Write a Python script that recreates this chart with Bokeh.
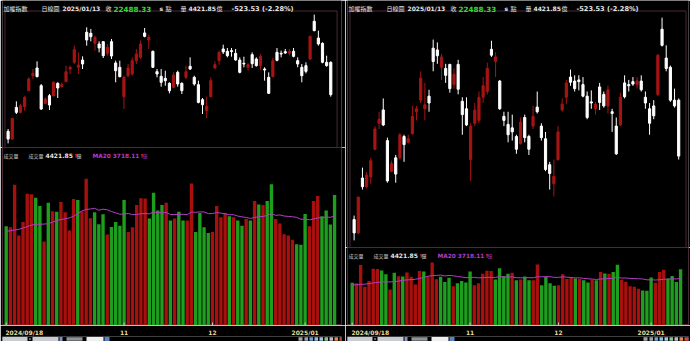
import numpy as np
import pandas as pd
from bokeh.plotting import figure
from bokeh.layouts import row, column
from bokeh.models import ColumnDataSource, Range1d, Label, FixedTicker
from bokeh.embed import file_html
from bokeh.resources import INLINE

# ---------------- data ----------------
sep_days = [18, 19, 20, 23, 24, 25, 26, 27, 30]
oct_days = [1, 4, 7, 8, 9, 11, 14, 15, 16, 17, 18, 21, 22, 23, 24, 25, 28, 29, 30]
nov_days = [1, 4, 5, 6, 7, 8, 11, 12, 13, 14, 15, 18, 19, 20, 21, 22, 25, 26, 27, 28, 29]
dec_days = [2, 3, 4, 5, 6, 9, 10, 11, 12, 13, 16, 17, 18, 19, 20, 23, 24, 25, 26, 27, 30, 31]
jan_days = [2, 3, 6, 7, 8, 9, 10, 13]
dates = ([f"2024/09/{d:02d}" for d in sep_days] + [f"2024/10/{d:02d}" for d in oct_days]
         + [f"2024/11/{d:02d}" for d in nov_days] + [f"2024/12/{d:02d}" for d in dec_days]
         + [f"2025/01/{d:02d}" for d in jan_days])

opens = [21826, 21687, 22259, 22169, 22271, 22560, 22831, 22970, 22650, 22331,
         22470, 22470, 22693, 22632, 22723, 22951, 23072, 22982, 23114, 23614,
         23596, 23415, 23403, 23445, 23234, 23445, 23060, 22982, 22452, 22831,
         22861, 23102, 23162, 23602, 23475, 23271, 22903, 22819, 22783, 22693,
         22620, 22891, 22693, 22801, 23000, 22801, 22669, 22398, 22199, 22452,
         22970, 23102, 23313, 23271, 23283, 23234, 23114, 23054, 22982, 23210,
         23132, 23012, 22951, 22801, 22813, 23252, 23234, 23265, 23234, 23271,
         23102, 22982, 23012, 23132, 23812, 23511, 23415, 23072, 23072]
highs = [21868, 22061, 22368, 22319, 22470, 22801, 22951, 23090, 22681, 22440,
         22500, 22729, 22711, 22711, 23012, 23012, 23373, 23252, 23180, 23704,
         23674, 23553, 23451, 23451, 23403, 23493, 23102, 23102, 22831, 23042,
         23162, 23313, 23463, 23692, 23572, 23283, 22951, 22951, 22921, 22711,
         22891, 22921, 22711, 23012, 23162, 22831, 22741, 22428, 22452, 22801,
         23090, 23283, 23391, 23331, 23331, 23313, 23162, 23174, 23054, 23252,
         23162, 23222, 22982, 22891, 23150, 23331, 23283, 23313, 23313, 23331,
         23162, 23042, 23072, 23553, 23933, 23644, 23433, 23192, 23090]
lows = [21609, 21675, 22139, 22151, 22199, 22548, 22771, 22801, 22211, 22319,
        22211, 22452, 22428, 22620, 22711, 22861, 23042, 22861, 22951, 23373,
        23451, 23283, 23252, 23150, 23192, 23132, 22711, 22801, 22229, 22801,
        22831, 23042, 23132, 23523, 23313, 22970, 22801, 22632, 22650, 22512,
        22608, 22632, 22500, 22771, 22933, 22650, 22331, 22139, 22067, 22440,
        22951, 23030, 23222, 23162, 23174, 23102, 22873, 22982, 22921, 22970,
        22994, 22933, 22741, 22500, 22801, 23090, 23162, 23222, 23192, 23162,
        22982, 22711, 22873, 23114, 23632, 23373, 23054, 22994, 22452]
closes = [21687, 22061, 22169, 22289, 22440, 22771, 22873, 22813, 22229, 22410,
          22301, 22711, 22608, 22669, 22903, 22982, 23301, 23024, 23042, 23475,
          23535, 23523, 23331, 23192, 23343, 23186, 22921, 22813, 22801, 22970,
          23102, 23222, 23403, 23541, 23523, 22982, 22861, 22711, 22741, 22560,
          22843, 22681, 22560, 22903, 22951, 22681, 22349, 22307, 22277, 22741,
          23030, 23252, 23259, 23192, 23265, 23114, 22891, 23042, 23030, 23048,
          23012, 23180, 22933, 22512, 23102, 23108, 23222, 23240, 23271, 23180,
          23042, 22831, 22909, 23541, 23644, 23403, 23072, 23011.86, 22488.33]
volumes = [3359, 3325, 4765, 3051, 3507, 4467, 4450, 4330, 4045, 2845,
           4158, 3874, 3850, 4182, 3840, 3222, 4285, 4251, 3860, 4971,
           3634, 3839, 3428, 3771, 3085, 3335, 3507, 3383, 4251, 3164,
           3325, 4079, 4309, 4300, 3623, 4501, 3898, 4079, 4158, 3555,
           3623, 3850, 3555, 3560, 4810, 3164, 3815, 3325, 3130, 3164,
           4045, 3668, 3815, 3702, 3668, 3555, 3383, 3610, 3555, 4216,
           4103, 4079, 4216, 4789, 3610, 3452, 3095, 3051, 2904, 2753,
           2732, 3781, 3359, 4216, 4388, 3702, 3898, 3418, 4421.85]
# MA20 over the first 19 sessions (depends on earlier, unseen sessions)
ma20_head = [3190, 3210, 3235, 3257, 3300, 3350, 3400, 3428, 3432, 3436,
             3450, 3500, 3560, 3590, 3615, 3644, 3700, 3790, 3880]

tick_dates = ["2024/09/18", "2024/11/01", "2024/12/02", "2025/01/02"]
tick_labels = ["2024/09/18", "11", "12", "2025/01"]

header_name = "加權指數"
header_period = "日線圖"
header_date = "2025/01/13"
header_close = "22488.33"
header_volume = "4421.85"
header_change = "-523.53 (-2.28%)"
ma20_label = "3718.11"

# ---------------- styling ----------------
BG = "#000000"
FRAME = "#4a2838"
C_UP = "#a81414"
C_DN = "#ffffff"
V_UP = "#a8100e"
V_DN = "#1e9e1e"
MA_COL = "#b43cc8"
TXT = "#e6e6e6"
GREEN_TXT = "#33dd33"
AX_TXT = "#e8dc9a"
CJK = "Noto Sans CJK TC"
LAT = "DejaVu Sans"

o = np.array(opens, float)
h = np.array(highs, float)
l = np.array(lows, float)
c = np.array(closes, float)
v = np.array(volumes, float)
n = len(c)
x = np.arange(n)
prev_close = np.r_[o[0], c[:-1]]
ma20 = pd.Series(v).rolling(20).mean().values
ma20[:len(ma20_head)] = ma20_head

src = ColumnDataSource(dict(
    x=x, o=o, h=h, l=l, c=c,
    btop=np.maximum(o, c), bbot=np.minimum(o, c),
    ccol=[C_UP if ci > oi else C_DN for oi, ci in zip(o, c)],
    vol=v, vcol=[V_UP if ci > pc else V_DN for ci, pc in zip(c, prev_close)],
    ma=ma20,
))
tick_pos = [dates.index(d) for d in tick_dates]

PW = 345
STEP = 4.21
HEAD = 10
AXIS_H = 10
TOOLBAR = 6
FIRST_LABEL_SHIFT = 4.3
BASE = dict(toolbar_location=None, output_backend="svg",
            background_fill_color=BG, border_fill_color=BG)


def lab(p, x, y, text, color, size=6.0, bold=True, font=LAT, yu="screen"):
    p.add_layout(Label(x=x, y=y, x_units="screen", y_units=yu, text=text,
                       text_color=color, text_font_size=f"{size}px",
                       text_font=font, text_font_style="bold" if bold else "normal",
                       text_baseline="alphabetic", text_align="left"))


def axis_strip(xr, xs_v, bl, br):
    # date axis on top, small widget row (decorative) below it
    tb = figure(width=PW, height=AXIS_H + TOOLBAR, x_range=xr, y_range=Range1d(0, TOOLBAR),
                x_axis_location="above", y_axis_location=None,
                min_border_left=bl, min_border_right=br, min_border_top=AXIS_H,
                min_border_bottom=0, outline_line_color=None, **BASE)
    tb.grid.visible = False
    lbl_pos = [tick_pos[0] + FIRST_LABEL_SHIFT] + tick_pos[1:]
    ax = tb.xaxis[0]
    ax.ticker = FixedTicker(ticks=lbl_pos)
    ax.major_label_overrides = {lbl_pos[i]: tick_labels[i] for i in range(4)}
    ax.axis_line_color = None
    ax.major_tick_line_color = None
    ax.major_tick_in = 0
    ax.major_tick_out = 0
    ax.minor_tick_line_color = None
    ax.minor_tick_in = 0
    ax.minor_tick_out = 0
    ax.major_label_text_color = AX_TXT
    ax.major_label_text_font = LAT
    ax.major_label_text_font_style = "bold"
    ax.major_label_text_font_size = "6px"
    ax.major_label_standoff = 1

    def px(p_):
        return xs_v + (p_ - bl) / STEP

    lefts = [1, 28.5, 32, 59, 66, 86, 104, 298, 304, 309, 314, 319, 324, 329, 334, 339]
    rights = [27, 30.5, 58, 62, 82, 103, 109, 302, 307.5, 312.5, 317.5, 322.5, 327.5, 332.5, 337.5, 343]
    bottoms = [0.5, 2.5, 0.5, 0.5, 0.8, 0.5, 0.5] + [0.8] * 9
    tops = [5.5, 3.5, 5.5, 5.5, 5.2, 5.5, 5.5] + [5.2] * 9
    cols = ["#c9ccd3", "#c0c0c0", "#c9ccd3", "#7d95c2", "#8e949c", "#eeeeee", "#5d83c4",
            "#9da3ab", "#9da3ab", "#6fa0d8", "#7fc6e6", "#a6c4e2", "#86c98a", "#b9bec6",
            "#e08a4a", "#cf4a3e"]
    tb.quad(left=[px(a) for a in lefts], right=[px(b) for b in rights],
            bottom=bottoms, top=tops, fill_color=cols, line_color=None)
    return tb


def make_panel(cand_h, vol_h, bl, br, first_px, vol_pad):
    lo, hi = l.min(), h.max()
    pad = (hi - lo) * 0.032
    ppx = (hi - lo + 2 * pad) / (cand_h - HEAD)
    y0c = lo - pad
    y1c = hi + pad + HEAD * ppx
    xs_c = -first_px / STEP

    pc = figure(width=PW, height=cand_h, x_range=Range1d(xs_c, xs_c + PW / STEP),
                y_range=Range1d(y0c, y1c), x_axis_location=None, y_axis_location=None,
                min_border=0, outline_line_color=None, **BASE)
    pc.grid.visible = False

    def fx(px):
        return xs_c + px / STEP

    def fy(py):
        return y1c - py * ppx

    pc.line(x=[fx(bl + 0.5)] * 2 + [fx(PW - br - 0.5)] * 2,
            y=[fy(cand_h), fy(HEAD + 0.5), fy(HEAD + 0.5), fy(cand_h)],
            line_color=FRAME, line_width=1)
    pc.segment(x0="x", y0="l", x1="x", y1="h", line_color="ccol", line_width=1, source=src)
    pc.vbar(x="x", width=0.52, top="btop", bottom="bbot", fill_color="ccol",
            line_color="ccol", line_width=1, source=src)

    yb = cand_h - 8.4
    lab(pc, 1, yb, header_name, TXT, 6, False, CJK)
    lab(pc, 39, yb, header_period, TXT, 6, False, CJK)
    lab(pc, 60, yb, header_date, TXT, 6)
    lab(pc, 103, yb, "收", TXT, 6, False, CJK)
    lab(pc, 111, yb, header_close, GREEN_TXT, 7.2)
    lab(pc, 157, yb, "s", TXT, 6)
    lab(pc, 163, yb, "點", TXT, 6, False, CJK)
    lab(pc, 178, yb, "量", TXT, 6, False, CJK)
    lab(pc, 186, yb, header_volume, TXT, 6)
    lab(pc, 214, yb, "億", TXT, 6, False, CJK)
    lab(pc, 229, yb, header_change, TXT, 6.6)

    vfh = vol_h - AXIS_H - TOOLBAR
    vtop = v.max() * vol_pad
    xs_v = -(first_px - bl) / STEP
    xr_v = Range1d(xs_v, xs_v + (PW - bl - br) / STEP)
    pv = figure(width=PW, height=vfh, x_range=xr_v,
                y_range=Range1d(0, vtop), x_axis_location=None, y_axis_location=None,
                min_border_left=bl, min_border_right=br, min_border_top=0,
                min_border_bottom=0, outline_line_color=FRAME, outline_line_width=1, **BASE)
    pv.grid.visible = False
    pv.vbar(x="x", width=0.8, top="vol", bottom=0, fill_color="vcol",
            line_color=None, source=src)
    pv.line(x="x", y="ma", line_color=MA_COL, line_width=1, source=src)
    tick_len = vtop * 3.0 / vfh
    pv.segment(x0=tick_pos, y0=[0] * 4, x1=tick_pos, y1=[tick_len] * 4,
               line_color="#c8c8c8", line_width=1)

    vy = vtop * (1 - 8.0 / vfh)
    off = -bl
    kw = dict(yu="data")
    lab(pv, off + 3, vy, "成交量", "#cccccc", 5, False, CJK, **kw)
    lab(pv, off + 28, vy, "成交量", "#cccccc", 5, False, CJK, **kw)
    lab(pv, off + 45, vy, header_volume, TXT, 6, **kw)
    lab(pv, off + 73, vy, "↑", "#ff2020", 5.5, **kw)
    lab(pv, off + 76, vy, "億", TXT, 5, False, CJK, **kw)
    lab(pv, off + 92, vy, "MA20 " + ma20_label, MA_COL, 5.8, **kw)
    lab(pv, off + 139, vy, "↑", "#ff2020", 5.5, **kw)
    lab(pv, off + 142, vy, "億", MA_COL, 5, False, CJK, **kw)
    return column(pc, pv, axis_strip(xr_v, xs_v, bl, br), spacing=0)


left = make_panel(147, 194, 2, 4, 5.7, 1.213)
right = make_panel(247, 94, 2, 2, 6.7, 1.236)
p = row(left, right, spacing=0)

open("out.html", "w").write(file_html(p, INLINE))
